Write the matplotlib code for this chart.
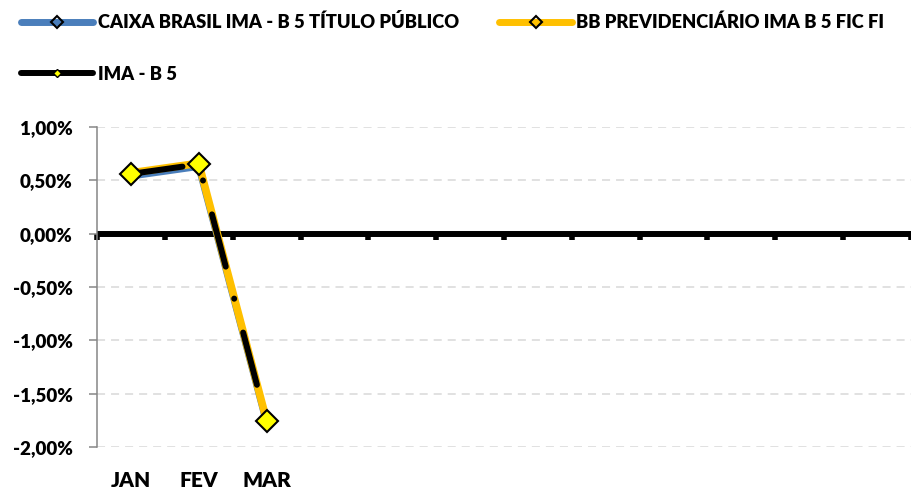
import numpy as np
import matplotlib.pyplot as plt
from matplotlib.lines import Line2D
from matplotlib.ticker import FuncFormatter

plt.rcParams['font.family'] = ['Lato', 'DejaVu Sans']
plt.rcParams['font.weight'] = 'heavy'
plt.rcParams['lines.scale_dashes'] = False

# data (% per month)
meses = ['JAN', 'FEV', 'MAR', '', '', '', '', '', '', '', '', '']
caixa = [0.54, 0.63, -1.77]
bb = [0.57, 0.66, -1.75]
ima = [0.56, 0.65, -1.76]
nomes = ['CAIXA BRASIL IMA - B 5 TÍTULO PÚBLICO',
         'BB PREVIDENCIÁRIO IMA B 5 FIC FI',
         'IMA - B 5']
yticks = [1.0, 0.5, 0.0, -0.5, -1.0, -1.5, -2.0]

azul = '#4A7EBB'
amarelo = '#FFC000'

fig = plt.figure(figsize=(9.12, 4.91), dpi=100)
ax = fig.add_axes([97/912, 1-447/491, (911-97)/912, (447-127)/491])

x = np.arange(len(caixa))
ax.plot(x, caixa, color=azul, lw=5, solid_capstyle='round', zorder=3)
ax.plot(x, bb, color=amarelo, lw=5.5, solid_capstyle='round', zorder=4)
ax.plot(x, ima, color='black', lw=4.3, dash_capstyle='round',
        linestyle=(1.4, (38.9, 23.8, 0.1, 25.2)), zorder=5)
ax.plot(x, ima, linestyle='none', marker='D', ms=11, mfc='#FFFF00',
        mec='black', mew=1.5, zorder=6)

ax.set_xlim(-0.5, len(meses) - 0.5)
ax.set_ylim(-2.0, 1.0)
ax.set_yticks(yticks)
ax.yaxis.set_major_formatter(FuncFormatter(lambda v, p: ('%.2f%%' % v).replace('.', ',')))
ax.tick_params(axis='y', direction='out', length=5.5, width=1.1, color='#868686',
               labelsize=13.5, pad=12)
ax.grid(axis='y', color='#D9D9D9', lw=1.1, linestyle=(0, (5.8, 4.3)), zorder=0)
ax.set_axisbelow(True)

for s in ['top', 'right']:
    ax.spines[s].set_visible(False)
ax.spines['left'].set_color('#868686')
ax.spines['left'].set_linewidth(1.1)
ax.spines['bottom'].set_position(('data', 0))
ax.spines['bottom'].set_color('black')
ax.spines['bottom'].set_linewidth(4.3)
ax.spines['bottom'].set_capstyle('butt')
ax.spines['bottom'].set_zorder(2)
ax.set_xticks(np.arange(-0.5, len(meses), 1.0))
ax.set_xticklabels([])
ax.tick_params(axis='x', direction='out', length=4.5, width=4, color='black')

sec = ax.secondary_xaxis('bottom')
sec.spines['bottom'].set_visible(False)
sec.set_xticks(np.arange(len(meses)))
sec.set_xticklabels(meses)
sec.tick_params(axis='x', length=0, labelsize=15, pad=17)

handles = [
    Line2D([], [], color=azul, lw=5, solid_capstyle='round', marker='D', ms=6,
           mfc='none', mec='black', mew=1.5),
    Line2D([], [], color='black', lw=4.3, solid_capstyle='round', marker='D', ms=4,
           mfc='#FFFF00', mec='black', mew=1),
    Line2D([], [], color=amarelo, lw=5, solid_capstyle='round', marker='D', ms=6,
           mfc='none', mec='black', mew=1.5),
]
fig.legend(handles, [nomes[0], nomes[2], nomes[1]], ncol=2, frameon=False,
           loc='upper left', bbox_to_anchor=(21/912, 1 - 13/491), borderpad=0,
           borderaxespad=0, fontsize=13.2, handlelength=3.95, handletextpad=0.25,
           labelspacing=1.9, columnspacing=2.2)

fig.savefig('out.png', dpi=100)
